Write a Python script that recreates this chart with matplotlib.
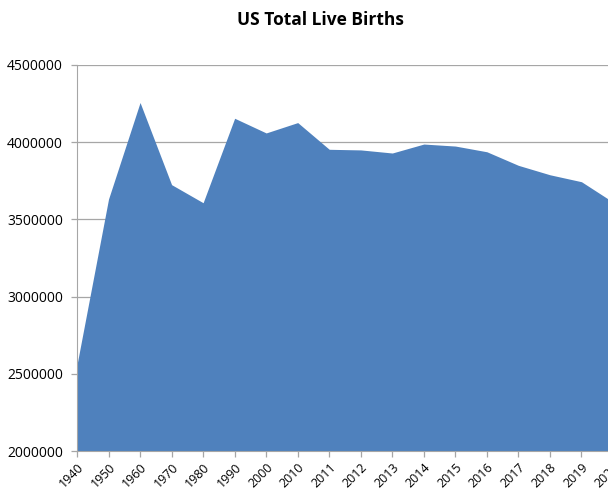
import matplotlib
matplotlib.use("Agg")
import matplotlib.pyplot as plt

years = ["1940", "1950", "1960", "1970", "1980", "1990", "2000", "2010",
         "2011", "2012", "2013", "2014", "2015", "2016", "2017", "2018", "2019", "2020"]
births = [2559000, 3632000, 4257000, 3725000, 3608000, 4155000, 4060000, 4127000,
          3954000, 3950000, 3930000, 3988000, 3975000, 3938000, 3850000, 3789000, 3744000, 3612000]
yticks = [2000000, 2500000, 3000000, 3500000, 4000000, 4500000]

plt.rcParams['font.family'] = ['Open Sans', 'DejaVu Sans']
fig = plt.figure(figsize=(6.08, 4.94), dpi=100)
ax = fig.add_axes([77/608, 1-451/494, (613-77)/608, (451-65)/494])

x = list(range(len(years)))
ax.fill_between(x, births, 2000000, color="#4F81BD", linewidth=0, zorder=2)
ax.set_xlim(0, len(years)-1)
ax.set_ylim(2000000, 4500000)
ax.set_yticks(yticks)
ax.set_yticklabels([str(v) for v in yticks], fontsize=10)
ax.set_xticks(x)
ax.set_xticklabels(years, rotation=45, ha="right", rotation_mode="anchor", fontsize=9)
ax.grid(axis="y", color="#A6A6A6", linewidth=0.9, zorder=1)
for s in ["top", "right"]:
    ax.spines[s].set_visible(False)
ax.spines["left"].set_color("#A6A6A6")
ax.spines["bottom"].set_color("#A6A6A6")
ax.tick_params(axis="both", colors="#A6A6A6", labelcolor="black", length=4, width=0.9)
ax.tick_params(axis="y", pad=6)
ax.tick_params(axis="x", pad=3)
ax.set_axisbelow(True)

fig.text(320/608, 1-20/494, "US Total Live Births", ha="center", va="center",
         fontsize=12.5, fontweight="bold")

fig.savefig("out.png", dpi=100)
